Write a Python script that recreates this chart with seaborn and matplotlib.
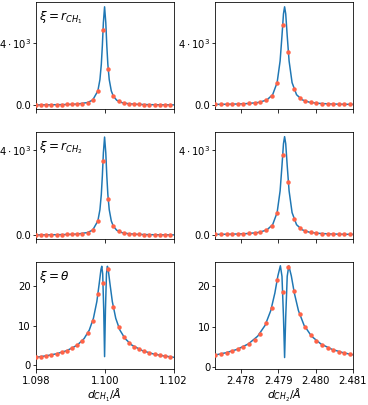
import matplotlib
matplotlib.use("Agg")
import matplotlib.pyplot as plt
import seaborn as sns
import numpy as np

# ---------------- data ----------------
# left column: d_CH1 grid (Angstrom)
x_dots_1 = [1.09800, 1.09815, 1.09830, 1.09845, 1.09860, 1.09875, 1.09890, 1.09905, 1.09920,
            1.09935, 1.09950, 1.09965, 1.09980, 1.09995, 1.10010, 1.10025, 1.10040, 1.10055,
            1.10070, 1.10085, 1.10100, 1.10115, 1.10130, 1.10145, 1.10160, 1.10175, 1.10190]
x_line_1 = [1.09800, 1.09830, 1.09860, 1.09890, 1.09920, 1.09950, 1.09965, 1.09980, 1.09986,
            1.09990, 1.09993, 1.09996, 1.099995, 1.10003, 1.10006, 1.10009, 1.10013, 1.10019,
            1.10025, 1.10035, 1.10050, 1.10070, 1.10100, 1.10130, 1.10160, 1.10200]
x_line_1t = [1.09800, 1.09830, 1.09860, 1.09890, 1.09920, 1.09940, 1.09955, 1.09967, 1.09977,
             1.09984, 1.09989, 1.099913, 1.09994, 1.09997, 1.099995, 1.10002, 1.10005, 1.100077,
             1.10010, 1.10015, 1.10022, 1.10032, 1.10044, 1.10059, 1.10079, 1.10110, 1.10140,
             1.10170, 1.10200]

# right column: d_CH2 grid (Angstrom)
x_dots_2 = [2.47732, 2.47747, 2.47762, 2.47777, 2.47792, 2.47807, 2.47822, 2.47837, 2.47852,
            2.47867, 2.47882, 2.47897, 2.47912, 2.47927, 2.47942, 2.47957, 2.47972, 2.47987,
            2.48002, 2.48017, 2.48032, 2.48047, 2.48062, 2.48077, 2.48092]
x_line_2 = [2.47732, 2.47760, 2.47790, 2.47820, 2.47850, 2.47870, 2.47885, 2.47897, 2.47905,
            2.47910, 2.47914, 2.47917, 2.47920, 2.47924, 2.47929, 2.47937, 2.47949, 2.47964,
            2.47984, 2.48010, 2.48040, 2.48070, 2.48100]
x_line_2t = [2.47732, 2.47760, 2.47790, 2.47820, 2.47845, 2.47865, 2.47880, 2.47891, 2.47899,
             2.479057, 2.47910, 2.47914, 2.47917, 2.47920, 2.47924, 2.479283, 2.47935, 2.47943,
             2.47954, 2.47969, 2.47989, 2.48014, 2.48044, 2.48074, 2.48100]

# xi = r_CH1
line_r1_left = [10, 14, 21, 34, 64, 161, 323, 913, 1647, 2631, 3819, 5322, 6340, 5322, 3819,
                2631, 1647, 913, 568, 306, 155, 81, 40, 24, 16, 10]
dots_r1_left = [10, 12, 14, 17, 21, 26, 34, 45, 64, 96, 161, 323, 913, 4817, 2328, 568, 238,
                129, 81, 55, 40, 30, 24, 19, 16, 13, 11]
line_r1_right = [41.5, 49.8, 65.4, 97.3, 176, 337, 666, 1447, 2848, 4470, 5888, 6340, 5888,
                 4470, 2848, 1447, 666, 337, 176, 104, 68.4, 51.3, 41.9]
dots_r1_right = [41.5, 45.4, 50.5, 57.4, 66.8, 80.3, 100.6, 133, 190, 302, 570, 1447, 5150,
                 3423, 1014, 450, 255, 167, 120.5, 92.9, 75.2, 63.3, 54.9, 48.7, 44]

# xi = r_CH2
line_r2_left = [7, 10, 15, 25, 46, 117, 235, 664, 1197, 1913, 2776, 3869, 4609, 3869, 2776,
                1913, 1197, 664, 413, 222, 113, 59, 29, 17, 11, 7]
dots_r2_left = [7, 9, 10, 12, 15, 19, 25, 33, 46, 70, 117, 235, 664, 3502, 1692, 413, 173,
                94, 59, 40, 29, 22, 17, 14, 11, 10, 8]
line_r2_right = [30.3, 36.4, 47.7, 71.0, 128, 246, 486, 1056, 2079, 3263, 4298, 4628, 4298,
                 3263, 2079, 1056, 486, 246, 128, 75.9, 49.9, 37.4, 30.6]
dots_r2_right = [30.3, 33.1, 36.9, 41.9, 48.8, 58.6, 73.4, 97.1, 139, 220, 416, 1056, 3760,
                 2499, 740, 329, 186, 122, 88, 67.8, 54.9, 46.2, 40.1, 35.6, 32.1]

# xi = theta
line_th_left = [2.05, 2.41, 2.93, 3.72, 5.10, 6.76, 8.90, 11.86, 16.1, 20.7, 24.2, 25.0, 23.1,
                14.0, 2.2, 14.0, 23.1, 25.0, 24.2, 20.7, 16.1, 11.86, 8.90, 6.76, 5.10, 3.69,
                2.91, 2.40, 2.04]
dots_th_left = [2.05, 2.22, 2.41, 2.65, 2.93, 3.28, 3.72, 4.31, 5.10, 6.26, 8.05, 11.26, 17.9,
                20.8, 24.2, 14.6, 9.72, 7.23, 5.74, 4.75, 4.05, 3.53, 3.13, 2.81, 2.55, 2.33, 2.15]
line_th_right = [3.04, 3.58, 4.41, 5.75, 7.66, 10.36, 13.97, 18.3, 22.5, 25.0, 22.4, 12.4, 2.4,
                 12.4, 22.4, 25.0, 22.5, 18.3, 13.97, 10.36, 7.66, 5.75, 4.41, 3.58, 3.08]
dots_th_right = [3.04, 3.31, 3.63, 4.01, 4.49, 5.0, 5.7, 6.7, 8.2, 10.8, 14.6, 21.4, 18.5, 24.8,
                 18.8, 13.1, 9.86, 7.88, 6.53, 5.58, 4.87, 4.31, 3.87, 3.51, 3.21]

row_labels = [r"$\xi = r_{CH_1}$", r"$\xi = r_{CH_2}$", r"$\xi = \theta$"]
x_labels = [r"$d_{CH_1}/\AA$", r"$d_{CH_2}/\AA$"]
xticks_left = [1.098, 1.100, 1.102]
xticks_right = [2.478, 2.479, 2.480, 2.481]
yticks_big = [0, 4000]
yticklabels_big = ["0.0", r"$4\cdot10^3$"]
yticks_theta = [0, 10, 20]

# ---------------- plot ----------------
LINE_C = "#1f77b4"
DOT_C = "#ff6347"

fig, axes = plt.subplots(3, 2, figsize=(368 / 72, 405 / 72), dpi=72, sharex="col")
fig.subplots_adjust(left=0.0978, right=0.9592, top=0.9958, bottom=0.0881,
                    wspace=0.305, hspace=0.208)

panels = [
    [(x_line_1, line_r1_left, x_dots_1, dots_r1_left),
     (x_line_2, line_r1_right, x_dots_2, dots_r1_right)],
    [(x_line_1, line_r2_left, x_dots_1, dots_r2_left),
     (x_line_2, line_r2_right, x_dots_2, dots_r2_right)],
    [(x_line_1t, line_th_left, x_dots_1, dots_th_left),
     (x_line_2t, line_th_right, x_dots_2, dots_th_right)],
]

ylims = [[(-277, 6670), (-277, 6670)],
         [(-202, 4861), (-202, 4861)],
         [(-1.0, 26.15), (-0.5, 26.0)]]

for r in range(3):
    for c in range(2):
        ax = axes[r, c]
        xl, yl, xd, yd = panels[r][c]
        sns.lineplot(x=xl, y=yl, ax=ax, color=LINE_C, linewidth=1.5,
                     estimator=None, sort=False)
        sns.scatterplot(x=xd, y=yd, ax=ax, color=DOT_C, s=20, linewidth=0, zorder=3)
        ax.set_ylim(*ylims[r][c])
        if r < 2:
            ax.set_yticks(yticks_big, yticklabels_big)
        else:
            ax.set_yticks(yticks_theta, [str(v) for v in yticks_theta])
        ax.tick_params(axis="y", pad=1.6)
        ax.set_ylabel("")
        if c == 0:
            ax.text(0.025, 0.93, row_labels[r], transform=ax.transAxes,
                    ha="left", va="top", fontsize=12)

for c in range(2):
    ax = axes[2, c]
    if c == 0:
        ax.set_xlim(1.098, 1.102)
        ax.set_xticks(xticks_left, [f"{v:.3f}" for v in xticks_left])
    else:
        ax.set_xlim(2.47732, 2.48100)
        ax.set_xticks(xticks_right, [f"{v:.3f}" for v in xticks_right])
    ax.set_xlabel(x_labels[c], fontsize=11, labelpad=0.3)

fig.savefig("out.png", dpi=72)
